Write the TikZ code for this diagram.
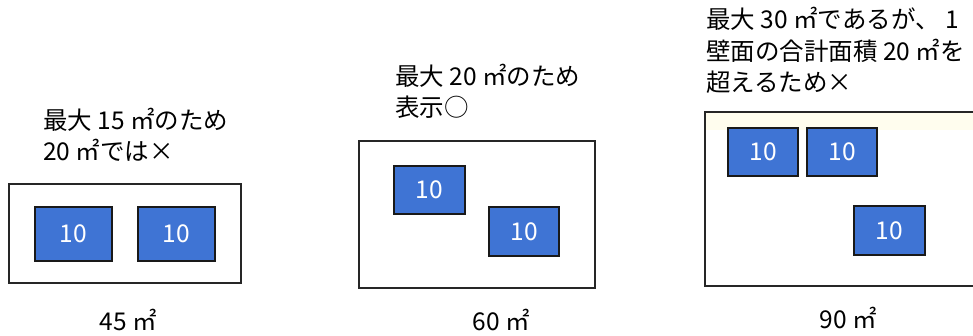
\documentclass[tikz,border=0pt]{standalone}
\usepackage{fontspec}
\setmainfont{Noto Sans CJK JP}
\newfontfamily\jp{Noto Sans CJK JP}
\definecolor{tileblue}{HTML}{3F74D4}
\definecolor{stripyellow}{HTML}{FFFDEE}
\begin{document}
\begin{tikzpicture}[x=1pt,y=-1pt,
  wall/.style={draw=black!85,line width=1.2pt},
  tile/.style={draw=black!90,line width=1.2pt,fill=tileblue,text=white,font=\jp\fontsize{24.5}{28}\selectfont,inner sep=0pt},
  note/.style={anchor=base west,align=left,inner sep=0pt,font=\jp\fontsize{24.5}{31.5}\selectfont},
  area/.style={anchor=base,inner sep=0pt,font=\jp\fontsize{24.5}{28}\selectfont}]
\useasboundingbox (0,0) rectangle (973,336);
% panel 1
\node[note] (n1) at (43,161) {最大 15 ㎡のため\\20 ㎡では×};
\draw[wall] (9,184) rectangle (241,283);
\node[tile,minimum width=77pt,minimum height=54pt] (t11) at (73.5,234) {10};
\node[tile,minimum width=77pt,minimum height=54pt] (t12) at (176.5,234) {10};
\node[area] (a1) at (128,330) {45 ㎡};
% panel 2
\node[note] (n2) at (395,117) {最大 20 ㎡のため\\表示○};
\draw[wall] (359,141) rectangle (595,288);
\node[tile,minimum width=71pt,minimum height=48pt] (t21) at (429.5,190) {10};
\node[tile,minimum width=70pt,minimum height=49pt] (t22) at (524,231.5) {10};
\node[area] (a2) at (501,330) {60 ㎡};
% panel 3
\node[note] (n3) at (706,92) {最大 30 ㎡であるが、 1\\壁面の合計面積 20 ㎡を\\超えるため×};
\fill[stripyellow] (706,113) rectangle (973,130);
\draw[wall] (980,112) -- (705,112) -- (705,286) -- (980,286);
\node[tile,minimum width=70pt,minimum height=48pt] (t31) at (763,152) {10};
\node[tile,minimum width=70pt,minimum height=48pt] (t32) at (842,152) {10};
\node[tile,minimum width=71pt,minimum height=49pt] (t33) at (889.5,230.5) {10};
\node[area] (a3) at (848,328) {90 ㎡};
\end{tikzpicture}
\end{document}
